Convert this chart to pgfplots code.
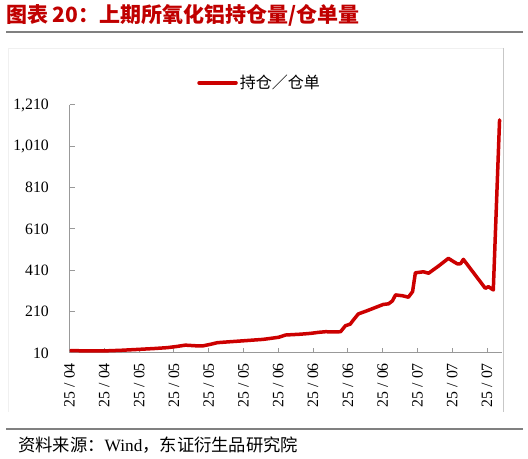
\documentclass[border=0pt]{standalone}
\usepackage{fontspec}
\setmainfont{Liberation Serif}
\newfontfamily\cjk{Noto Sans CJK SC}
\usepackage{pgfplots}
\pgfplotsset{compat=1.18}
\definecolor{lred}{RGB}{204,0,0}
\definecolor{tred}{RGB}{192,0,0}
\begin{document}
\begin{tikzpicture}
\path[use as bounding box] (0bp,0bp) rectangle (528bp,459bp);
\draw[line width=2bp, color=black!50] (6bp,427bp) -- (523bp,427bp);
\draw[line width=2bp, color=black!50] (6bp,30bp) -- (523bp,30bp);
\draw[color=black!6] (8bp,47bp) -- (8bp,411bp) -- (503bp,411bp);
\draw[color=black!22] (503bp,411bp) -- (503bp,47bp);
\node[anchor=west, inner sep=0pt, text=tred, font=\cjk\bfseries\fontsize{21bp}{24bp}\selectfont] at (6bp,444bp) {图表 20：上期所氧化铝持仓量/仓单量};
\node[anchor=west, inner sep=0pt, font=\fontsize{17.3bp}{20bp}\selectfont] at (18bp,14bp) {{\cjk 资料来源：}Wind{\cjk ，东证衍生品研究院}};
\begin{axis}[
  at={(69.5bp,106bp)}, anchor=south west,
  scale only axis, width=432.5bp, height=248bp,
  xmin=0, xmax=12.43, ymin=10, ymax=1210,
  axis lines*=left,
  axis line style={color=black!40, line width=1bp},
  tick style={color=black!40, line width=1bp},
  tick align=inside, major tick length=5bp,
  xtick={0,1,2,3,4,5,6,7,8,9,10,11,12},
  xticklabels={25 / 04,25 / 04,25 / 05,25 / 05,25 / 05,25 / 05,25 / 06,25 / 06,25 / 06,25 / 06,25 / 07,25 / 07,25 / 07},
  ytick={10,210,410,610,810,1010,1210},
  /pgf/number format/1000 sep={,},
  /pgf/number format/assume math mode=true,
  ticklabel style={font=\fontsize{15.8bp}{18bp}\selectfont},
  yticklabel style={anchor=east, inner sep=0pt, xshift=-20.5bp},
  xticklabel style={yshift=-10bp, rotate=90, anchor=east, inner sep=0pt},
  legend style={at={(0.295,1.089)}, anchor=west, draw=none, fill=none, inner sep=0pt, font=\cjk\fontsize{16bp}{18bp}\selectfont},
  legend image code/.code={\draw[#1, line width=3.5bp] (0bp,0bp) -- (37bp,0bp);},
]
\addplot[color=lred, line width=3.5bp, line join=round, line cap=round] coordinates {
(0.03,22) (0.46,20) (0.98,20) (1.47,23) (2.04,28) (2.47,32) (2.82,36)
(3.10,42) (3.33,48) (3.62,45) (3.82,44) (4.05,52) (4.25,60) (4.57,64)
(4.91,68) (5.57,76) (6.01,86) (6.21,97) (6.64,101) (6.93,105) (7.16,110)
(7.36,113) (7.59,112) (7.79,113) (7.93,142) (8.07,150) (8.16,170) (8.30,199)
(8.56,215) (8.85,234) (9.02,245) (9.17,248) (9.28,262) (9.37,291) (9.57,287)
(9.74,280) (9.86,307) (9.94,398) (10.17,403) (10.32,396) (10.60,430)
(10.89,468) (11.01,455) (11.15,441) (11.24,442) (11.32,463) (11.95,323)
(12.04,331) (12.18,315) (12.36,1138)
};
\addlegendentry{持仓／仓单}
\end{axis}
\end{tikzpicture}
\end{document}
